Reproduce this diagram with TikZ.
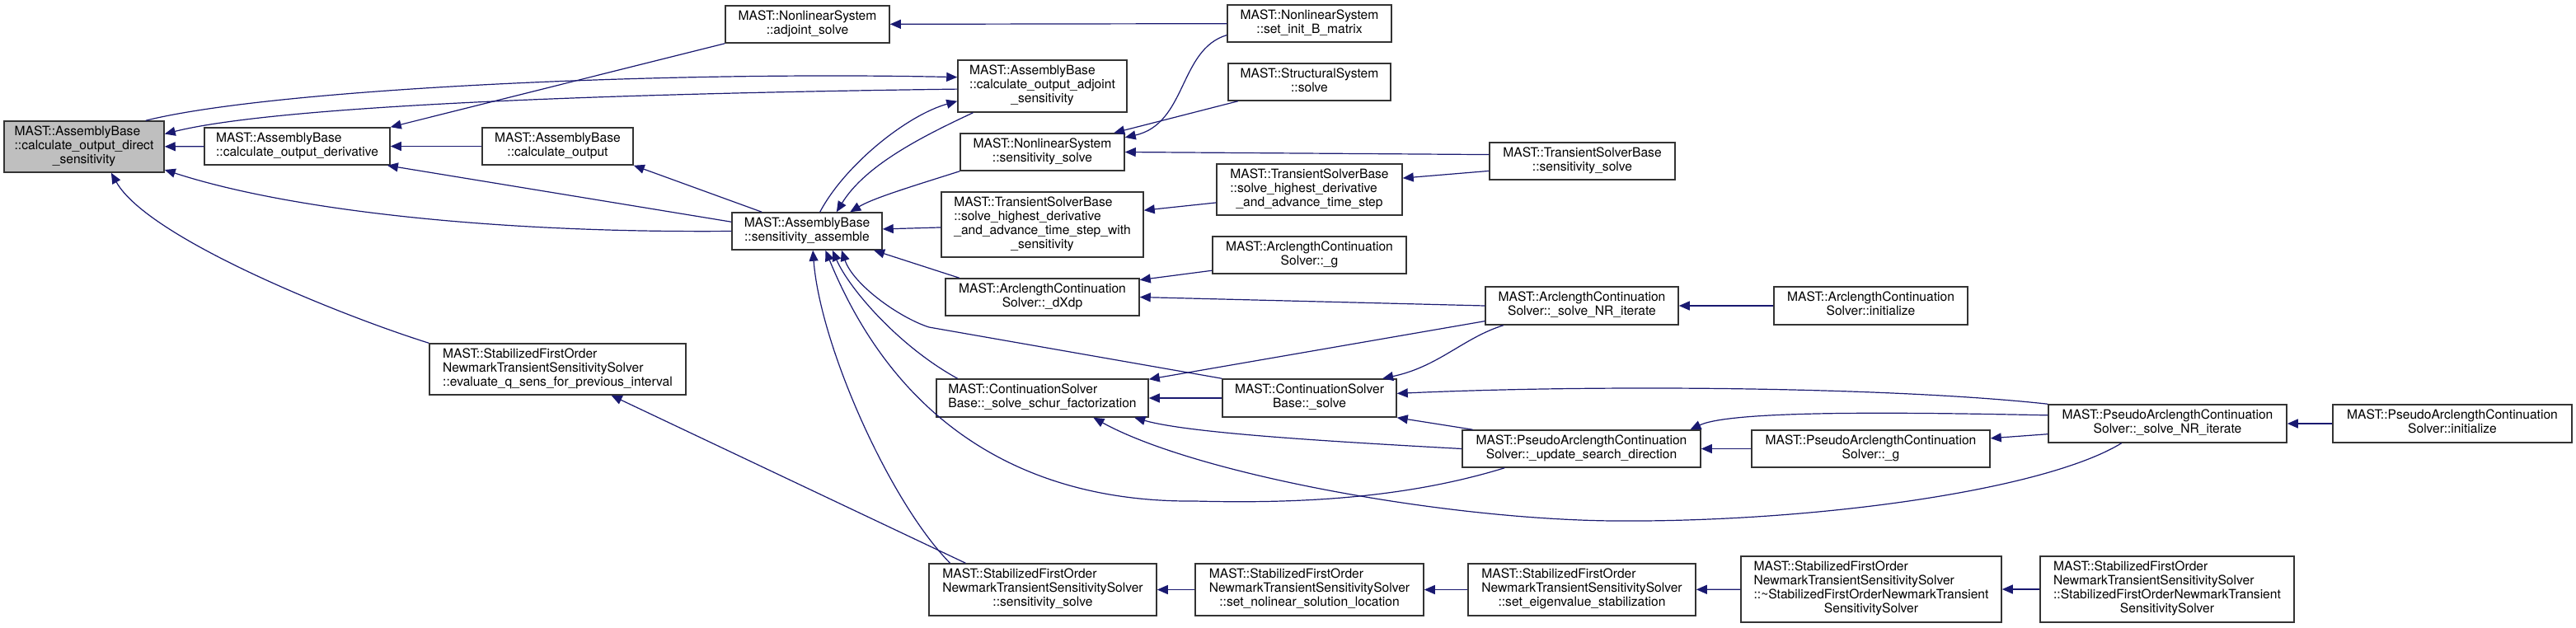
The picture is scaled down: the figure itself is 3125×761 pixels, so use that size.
\documentclass[tikz,border=0pt]{standalone}
\usepackage{fontspec}
\setmainfont{TeX Gyre Heros}
\usetikzlibrary{arrows.meta}

\definecolor{edgeblue}{HTML}{191970}
\definecolor{rootgray}{HTML}{BFBFBF}
\newcommand{\fnlabel}[2]{\begin{tabular}{@{}l@{}}#1\\\multicolumn{1}{@{}c@{}}{#2}\end{tabular}}

\begin{document}
\begin{tikzpicture}[
  x=0.5pt, y=-0.5pt,
  >={Triangle[length=6.5pt,width=5.5pt]},
  every node/.style={font=\fontsize{7.8}{8.5}\selectfont},
  fn/.style={draw=black!80, line width=0.75pt, fill=white, inner sep=0pt},
  rootfn/.style={fn, fill=rootgray},
  call/.style={->, draw=edgeblue, line width=0.6pt}
]
\useasboundingbox (0,0) rectangle (3125,761);

\node[rootfn, minimum width=97pt, minimum height=31pt] (root) at (102,178)
  {\fnlabel{MAST::AssemblyBase\\::calculate\_output\_direct}{\_sensitivity}};
\node[fn, minimum width=112.5pt, minimum height=22.5pt] (deriv) at (360.5,177.5)
  {\fnlabel{MAST::AssemblyBase}{::calculate\_output\_derivative}};
\node[fn, minimum width=91.5pt, minimum height=22.5pt] (calcout) at (676.5,177.5)
  {\fnlabel{MAST::AssemblyBase}{::calculate\_output}};
\node[fn, minimum width=155.5pt, minimum height=31pt] (evalq) at (676.5,448)
  {\fnlabel{MAST::StabilizedFirstOrder\\NewmarkTransientSensitivitySolver}{::evaluate\_q\_sens\_for\_previous\_interval}};

\node[fn, minimum width=99.5pt, minimum height=22.5pt] (adjsolve) at (979.5,29.5)
  {\fnlabel{MAST::NonlinearSystem}{::adjoint\_solve}};
\node[fn, minimum width=91pt, minimum height=22.5pt] (sensasm) at (979,280.5)
  {\fnlabel{MAST::AssemblyBase}{::sensitivity\_assemble}};

\node[fn, minimum width=102.5pt, minimum height=31.5pt] (adjsens) at (1264.5,104.5)
  {\fnlabel{MAST::AssemblyBase\\::calculate\_output\_adjoint}{\_sensitivity}};
\node[fn, minimum width=99.5pt, minimum height=22.5pt] (nlsens) at (1264.5,184.5)
  {\fnlabel{MAST::NonlinearSystem}{::sensitivity\_solve}};
\node[fn, minimum width=122.5pt, minimum height=39.5pt] (hiwith) at (1264.5,272.5)
  {\fnlabel{MAST::TransientSolverBase\\::solve\_highest\_derivative\\\_and\_advance\_time\_step\_with}{\_sensitivity}};
\node[fn, minimum width=117.5pt, minimum height=22.5pt] (dxdp) at (1264.5,360.5)
  {\fnlabel{MAST::ArclengthContinuation}{Solver::\_dXdp}};
\node[fn, minimum width=128.5pt, minimum height=23pt] (schur) at (1264.5,483)
  {\fnlabel{MAST::ContinuationSolver}{Base::\_solve\_schur\_factorization}};
\node[fn, minimum width=138pt, minimum height=31.5pt] (stabsens) at (1265,715.5)
  {\fnlabel{MAST::StabilizedFirstOrder\\NewmarkTransientSensitivitySolver}{::sensitivity\_solve}};

\node[fn, minimum width=99.5pt, minimum height=22.5pt] (setB) at (1588.5,28.5)
  {\fnlabel{MAST::NonlinearSystem}{::set\_init\_B\_matrix}};
\node[fn, minimum width=98.5pt, minimum height=22.5pt] (struct) at (1588.5,99.5)
  {\fnlabel{MAST::StructuralSystem}{::solve}};
\node[fn, minimum width=112.5pt, minimum height=31pt] (hi) at (1588.5,230)
  {\fnlabel{MAST::TransientSolverBase\\::solve\_highest\_derivative}{\_and\_advance\_time\_step}};
\node[fn, minimum width=117.5pt, minimum height=22.5pt] (arcg) at (1588.5,309.5)
  {\fnlabel{MAST::ArclengthContinuation}{Solver::\_g}};
\node[fn, minimum width=105.5pt, minimum height=23pt] (csolve) at (1588.5,483)
  {\fnlabel{MAST::ContinuationSolver}{Base::\_solve}};
\node[fn, minimum width=138.5pt, minimum height=31.5pt] (stabnl) at (1588.5,715.5)
  {\fnlabel{MAST::StabilizedFirstOrder\\NewmarkTransientSensitivitySolver}{::set\_nolinear\_solution\_location}};

\node[fn, minimum width=112.5pt, minimum height=22.5pt] (trsens) at (1919.5,195.5)
  {\fnlabel{MAST::TransientSolverBase}{::sensitivity\_solve}};
\node[fn, minimum width=117pt, minimum height=23pt] (arcnr) at (1919,371)
  {\fnlabel{MAST::ArclengthContinuation}{Solver::\_solve\_NR\_iterate}};
\node[fn, minimum width=144.5pt, minimum height=22.5pt] (update) at (1918.5,544.5)
  {\fnlabel{MAST::PseudoArclengthContinuation}{Solver::\_update\_search\_direction}};
\node[fn, minimum width=138pt, minimum height=31.5pt] (stabeig) at (1919,715.5)
  {\fnlabel{MAST::StabilizedFirstOrder\\NewmarkTransientSensitivitySolver}{::set\_eigenvalue\_stabilization}};

\node[fn, minimum width=117.5pt, minimum height=23pt] (arcinit) at (2269.5,371)
  {\fnlabel{MAST::ArclengthContinuation}{Solver::initialize}};
\node[fn, minimum width=144.5pt, minimum height=22.5pt] (pseudog) at (2269.5,544.5)
  {\fnlabel{MAST::PseudoArclengthContinuation}{Solver::\_g}};
\node[fn, minimum width=158pt, minimum height=40pt] (stabdes) at (2270,715)
  {\fnlabel{MAST::StabilizedFirstOrder\\NewmarkTransientSensitivitySolver\\::\textasciitilde StabilizedFirstOrderNewmarkTransient}{SensitivitySolver}};

\node[fn, minimum width=144.5pt, minimum height=23pt] (pseudonr) at (2629.5,514)
  {\fnlabel{MAST::PseudoArclengthContinuation}{Solver::\_solve\_NR\_iterate}};
\node[fn, minimum width=154pt, minimum height=40pt] (stabcon) at (2629,715)
  {\fnlabel{MAST::StabilizedFirstOrder\\NewmarkTransientSensitivitySolver\\::StabilizedFirstOrderNewmarkTransient}{SensitivitySolver}};
\node[fn, minimum width=145pt, minimum height=23pt] (pseudoinit) at (2975,514)
  {\fnlabel{MAST::PseudoArclengthContinuation}{Solver::initialize}};

\draw[call] (deriv) -- (root);
\draw[call] (calcout) -- (deriv);
\draw[call] (adjsolve.south west) -- (deriv.north east);
\draw[call] (root.23) .. controls (330,108) and (800,86) .. (adjsens.174);
\draw[call] (adjsens.182) .. controls (700,114) and (330,130) .. (root.9);
\draw[call] (sensasm.west) .. controls (600,283) and (350,255) .. (root.-16);
\draw[call] (sensasm.173) -- (deriv.-12);
\draw[call] (sensasm.157) -- (calcout.south east);
\draw[call] (evalq.north west) .. controls (420,385) and (180,290) .. (root.-44);
\draw[call] (stabsens.161) -- (evalq.-26);

\draw[call] (stabsens.164) .. controls (1080,610) and (995,420) .. (sensasm.-73);
\draw[call] (update.194) .. controls (1720,600) and (1600,612) .. (1450,608)
  .. controls (1250,610) and (1090,520) .. (sensasm.-46);
\draw[call] (schur.167) .. controls (1090,420) and (1030,350) .. (sensasm.-37);
\draw[call] (csolve.north west) -- (1127,397) .. controls (1090,385) and (1035,345) .. (sensasm.-29);
\draw[call] (dxdp.167) -- (sensasm.-16);
\draw[call] (nlsens.south west) .. controls (1110,225) and (1060,240) .. (sensasm.24);
\draw[call] (hiwith) -- (sensasm);
\draw[call] (sensasm.56) .. controls (1025,200) and (1100,140) .. (adjsens.190);
\draw[call] (adjsens.201) .. controls (1120,165) and (1050,200) .. (sensasm.33);

\draw[call] (setB) -- (adjsolve);
\draw[call] (setB.188) .. controls (1430,60) and (1440,150) .. (nlsens.10);
\draw[call] (struct.195) -- (nlsens.15);
\draw[call] (trsens.176) -- (nlsens.east);
\draw[call] (trsens.186) -- (hi.7);
\draw[call] (hi.188) -- (hiwith.8);
\draw[call] (arcg.189) -- (dxdp.10);
\draw[call] (arcnr.west) -- (dxdp.east);
\draw[call] (arcinit) -- (arcnr);
\draw[call] (arcnr.189) -- (schur.10);
\draw[call] (arcnr.194) .. controls (1775,410) and (1745,445) .. (csolve.15);
\draw[call] (csolve) -- (schur);
\draw[call] (pseudonr.north west) .. controls (2300,470) and (1950,466) .. (csolve.3);
\draw[call] (pseudonr.176) .. controls (2300,500) and (2100,498) .. (update.10);
\draw[call] (pseudonr.185) -- (pseudog.5);
\draw[call] (pseudonr.203) .. controls (2480,595) and (2200,634) .. (1957,632)
  .. controls (1750,630) and (1450,575) .. (schur.-21);
\draw[call] (update.west) .. controls (1600,535) and (1440,525) .. (schur.-12);
\draw[call] (update.170) -- (csolve.south east);
\draw[call] (pseudog) -- (update);
\draw[call] (pseudoinit) -- (pseudonr);

\draw[call] (stabnl) -- (stabsens);
\draw[call] (stabeig) -- (stabnl);
\draw[call] (stabdes) -- (stabeig);
\draw[call] (stabcon) -- (stabdes);

\end{tikzpicture}
\end{document}
